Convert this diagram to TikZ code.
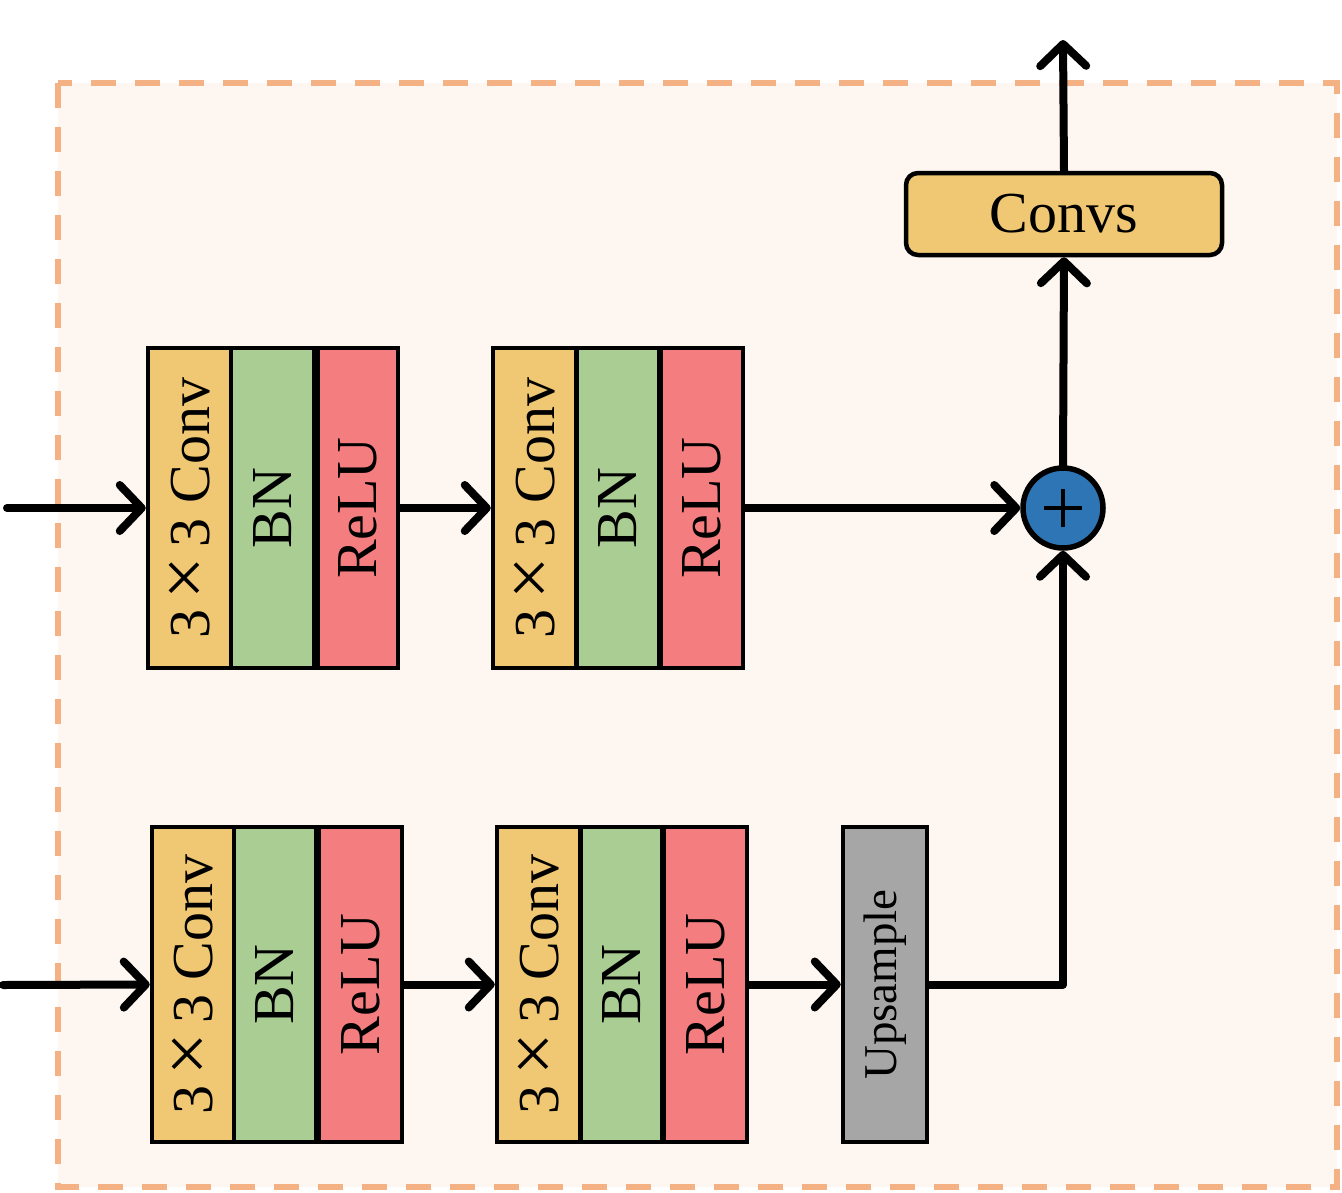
\documentclass[tikz,border=0pt]{standalone}
\usepackage{fontspec}
\setmainfont{Liberation Serif}
\usetikzlibrary{arrows.meta}
\definecolor{cconv}{HTML}{F0C873}
\definecolor{cbn}{HTML}{AACD94}
\definecolor{crelu}{HTML}{F47D80}
\definecolor{cup}{HTML}{A6A6A6}
\definecolor{cblue}{HTML}{2E75B6}
\definecolor{dashc}{HTML}{F4B183}
\definecolor{bgc}{HTML}{FDF6F1}
\newcommand{\cxc}{3\,\scalebox{1.3}{×}\,3 Conv}
\begin{document}
\begin{tikzpicture}[x=1pt,y=-1pt,
  blk/.style={draw=black, line width=4.5pt, minimum width=83pt, minimum height=320pt, inner sep=0pt, font=\fontsize{58}{60}\selectfont},
  blkb/.style={blk, minimum height=315pt},
  tip/.style={-{Straight Barb[length=22pt,width=46pt,line cap=round,line join=round]}},
  arr/.style={line width=8pt, line cap=round, tip},
  ln/.style={line width=8pt, line cap=round, line join=round}]
\useasboundingbox (0,0) rectangle (1342,1192);
\draw[draw=dashc, fill=bgc, line width=6pt, dash pattern=on 25pt off 19pt] (58,83) rectangle (1337,1187);
% top row
\node[blk, fill=cconv] (c1) at (189.5,508) {\rotatebox{90}{\cxc}};
\node[blk, fill=cbn] (b1) at (272.5,508) {\rotatebox{90}{BN}};
\node[blk, fill=crelu, minimum width=80pt] (r1) at (358,508) {\rotatebox{90}{ReLU}};
\node[blk, fill=cconv] (c2) at (534.5,508) {\rotatebox{90}{\cxc}};
\node[blk, fill=cbn] (b2) at (618,508) {\rotatebox{90}{BN}};
\node[blk, fill=crelu, minimum width=82pt] (r2) at (702,508) {\rotatebox{90}{ReLU}};
% bottom row
\node[blkb, fill=cconv, minimum width=82pt] (c3) at (193,984.5) {\rotatebox{90}{\cxc}};
\node[blkb, fill=cbn, minimum width=82pt] (b3) at (275,984.5) {\rotatebox{90}{BN}};
\node[blkb, fill=crelu] (r3) at (360.5,984.5) {\rotatebox{90}{ReLU}};
\node[blkb, fill=cconv] (c4) at (538.5,984.5) {\rotatebox{90}{\cxc}};
\node[blkb, fill=cbn, minimum width=82pt] (b4) at (621.5,984.5) {\rotatebox{90}{BN}};
\node[blkb, fill=crelu] (r4) at (705.5,984.5) {\rotatebox{90}{ReLU}};
\node[blkb, fill=cup, minimum width=84pt, font=\fontsize{47}{50}\selectfont] (up) at (885,984.5) {\rotatebox{90}{Upsample}};
% sum and convs
\node[circle, draw=black, line width=5.5pt, fill=cblue, minimum size=80pt, inner sep=0pt] (sum) at (1063,508) {};
\draw[line width=4.5pt] ([xshift=-19pt]sum.center) -- ([xshift=19pt]sum.center)
  ([yshift=-19pt]sum.center) -- ([yshift=19pt]sum.center);
\node[draw=black, line width=4.5pt, rounded corners=12pt, fill=cconv, minimum width=316pt, minimum height=82pt, inner sep=0pt, font=\fontsize{58}{60}\selectfont] (convs) at (1064,214) {Convs};
% free ends
\coordinate (in1) at (7,508);
\coordinate (in2) at (3,985);
\coordinate (out) at (1063,40);
% connectors
\draw[arr] (in1) -- (c1.west);
\draw[arr] (r1.east) -- (c2.west);
\draw[arr] (r2.east) -- (sum.west);
\draw[arr] (in2) -- (c3.west);
\draw[arr] (r3.east) -- (c4.west);
\draw[arr] (r4.east) -- (up.west);
\draw[ln, tip] (up.east) -| (sum.south);
\draw[arr] (sum.north) -- (convs.south);
\draw[arr] (convs.north) -- (out);
\end{tikzpicture}
\end{document}
